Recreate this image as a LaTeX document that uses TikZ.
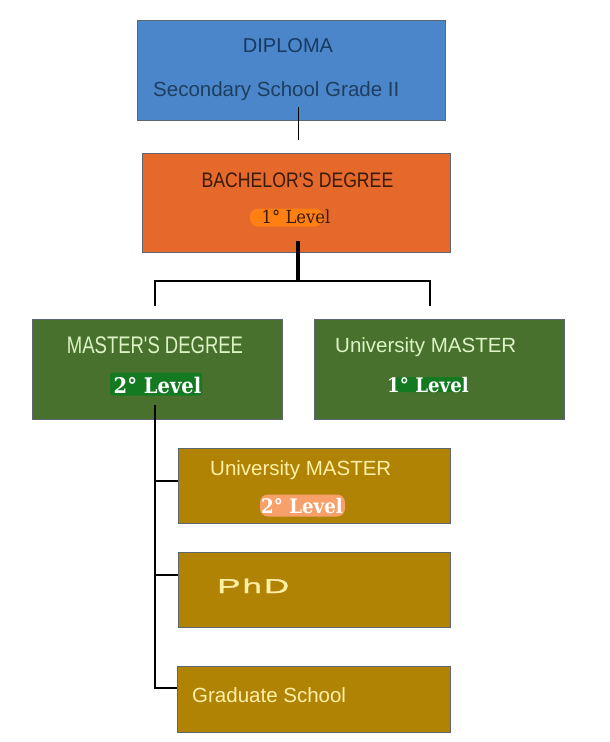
\documentclass[tikz,border=0pt]{standalone}
\usepackage{fontspec}
\setmainfont{Liberation Sans}
\newfontfamily\narrowA[FakeStretch=0.84]{Liberation Sans}
\newfontfamily\narrowB[FakeStretch=0.77]{Liberation Sans}
\newfontfamily\slabfont[FakeStretch=0.91]{DejaVu Serif}
\newfontfamily\widefont[FakeStretch=1.75,LetterSpace=10,FakeBold=1.5]{Liberation Sans}
\definecolor{blueF}{HTML}{4A86C9}
\definecolor{orangeF}{HTML}{E4692A}
\definecolor{greenF}{HTML}{48712E}
\definecolor{goldF}{HTML}{B08305}
\definecolor{edgeC}{HTML}{5E6670}
\definecolor{navyT}{HTML}{173A62}
\definecolor{navyT2}{HTML}{1E3F60}
\definecolor{brownT}{HTML}{3A1A0A}
\definecolor{lgreenT}{HTML}{DDF3C6}
\definecolor{lyellowT}{HTML}{FFF0A6}
\definecolor{hlOrange}{HTML}{FF8012}
\definecolor{hlGreen}{HTML}{137A22}
\definecolor{hlPeach}{HTML}{F7A06A}
\tikzset{
  box/.style={draw=edgeC, line width=0.8pt, inner sep=0pt, rectangle},
  blob/.style={inner sep=0pt, rounded corners=8pt, draw=none},
  lbl/.style={inner sep=0pt, anchor=base},
  lblw/.style={inner sep=0pt, anchor=base west},
  sz/.style={font=\fontsize{20.5}{24}\selectfont},
  lev/.style={font=\slabfont\bfseries\fontsize{20}{24}\selectfont},
  thin/.style={line width=1pt, black},
  mid/.style={line width=2.2pt, black},
  thick/.style={line width=3.5pt, black}
}
\begin{document}
\begin{tikzpicture}[x=1pt,y=-1pt]
\useasboundingbox (0,0) rectangle (610,742);
\fill[white] (0,0) rectangle (610,742);

% boxes
\node[box, fill=blueF, minimum width=308pt, minimum height=100pt] (diploma) at (291,70) {};
\node[box, fill=orangeF, minimum width=308pt, minimum height=99pt] (bach) at (296,202.5) {};
\node[box, fill=greenF, minimum width=250pt, minimum height=100pt] (mast) at (157,369) {};
\node[box, fill=greenF, minimum width=250pt, minimum height=100pt] (um1) at (439.5,369) {};
\node[box, fill=goldF, minimum width=272pt, minimum height=75pt] (um2) at (314,485.5) {};
\node[box, fill=goldF, minimum width=272pt, minimum height=75pt] (phd) at (314,589.5) {};
\node[box, fill=goldF, minimum width=273pt, minimum height=66pt] (grad) at (313.5,699) {};

% highlights
\node[blob, fill=hlOrange, minimum width=73pt, minimum height=18pt] (hl1) at (286.5,217.5) {};
\node[blob, fill=hlGreen, minimum width=92pt, minimum height=23pt, rounded corners=3pt] (hl2) at (156,384) {};
\node[blob, fill=hlGreen, minimum width=74pt, minimum height=15pt] (hl3) at (430,384.5) {};
\node[blob, fill=hlPeach, minimum width=85pt, minimum height=22pt] (hl4) at (302.5,505.5) {};

% texts
\node[lbl, text=navyT, font=\fontsize{20}{24}\selectfont] (tdip) at (288,52) {DIPLOMA};
\node[lblw, text=navyT2, sz] (tsec) at (153,96) {Secondary School Grade II};
\node[lbl, text=brownT, font=\narrowA\fontsize{21}{24}\selectfont] (tbach) at (297.5,187) {BACHELOR'S DEGREE};
\node[lbl, text=brownT, font=\slabfont\fontsize{18}{22}\selectfont] (tl1) at (296,223) {1° Level};
\node[lbl, text=lgreenT, font=\narrowB\fontsize{24}{28}\selectfont] (tmast) at (155,353) {MASTER'S DEGREE};
\node[lbl, text=white, font=\slabfont\bfseries\fontsize{21.5}{24}\selectfont] (tl2) at (157.5,393) {2° Level};
\node[lblw, text=lgreenT, sz] (tum1) at (335,352) {University MASTER};
\node[lbl, text=white, lev] (tl3) at (428,392) {1° Level};
\node[lblw, text=lyellowT, sz] (tum2) at (210,475) {University MASTER};
\node[lbl, text=white, lev] (tl4) at (302,513) {2° Level};
\node[lblw, text=lyellowT, font=\widefont\fontsize{20}{24}\selectfont] (tphd) at (217,593) {PhD};
\node[lblw, text=lyellowT, sz] (tgrad) at (192,702) {Graduate School};

% connectors
\coordinate (c1) at (298,107);
\coordinate (c2) at (298,140);
\draw[thin] (c1) -- (c2);

\coordinate (b0) at (298,241);
\coordinate (b1) at (298,281);
\coordinate (bl) at (155,281);
\coordinate (br) at (430,281);
\coordinate (bld) at (155,305);
\coordinate (brd) at (430,305);
\draw[thick] (b0) -- (b1);
\draw[mid, line cap=rect] (bld) -- (bl) -- (br) -- (brd);

\coordinate (m0) at (155,405);
\coordinate (m3) at (155,688);
\draw[mid] (m0) -- (m3) -- (grad.west |- m3);
\draw[mid] (155,481) -- (um2.west |- 0,481);
\draw[mid] (155,575) -- (phd.west |- 0,575);
\end{tikzpicture}
\end{document}
